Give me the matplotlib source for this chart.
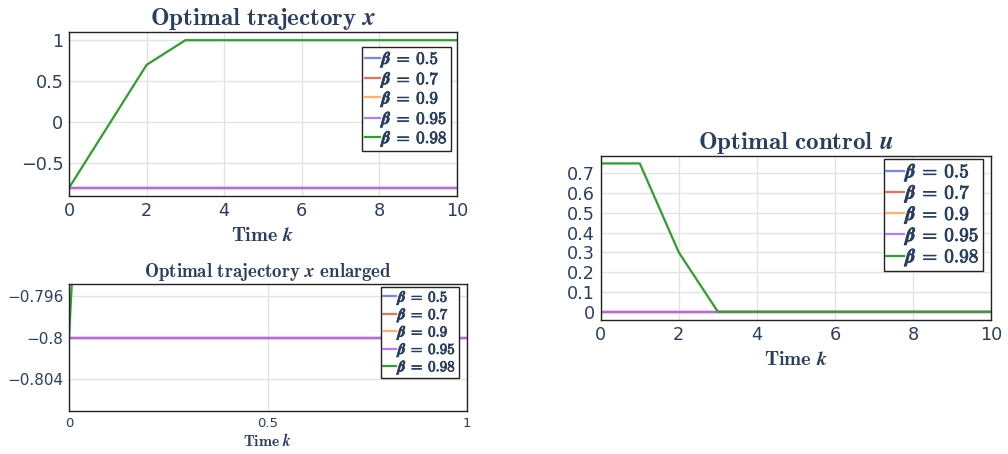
import matplotlib
matplotlib.use('Agg')
import matplotlib.pyplot as plt
import matplotlib.patheffects as pe

plt.rcParams['mathtext.fontset'] = 'cm'
plt.rcParams['font.family'] = ['DejaVu Sans']

# time grid and the discount factors that were tried
time_k = [0, 1, 2, 3, 4, 5, 6, 7, 8, 9, 10]
betas = ['0.5', '0.7', '0.9', '0.95', '0.98']
colors = ['#636efa', '#ef553b', '#ffa15a', '#ab63fa', '#2ca02c']

# optimal trajectory x for each beta
x_050 = [-0.8] * 11
x_070 = [-0.8] * 11
x_090 = [-0.8] * 11
x_095 = [-0.8] * 11
x_098 = [-0.8, -0.05, 0.7, 1.0, 1.0, 1.0, 1.0, 1.0, 1.0, 1.0, 1.0]

# optimal control u for each beta
u_050 = [0.0] * 11
u_070 = [0.0] * 11
u_090 = [0.0] * 11
u_095 = [0.0] * 11
u_098 = [0.75, 0.75, 0.3, 0.0, 0.0, 0.0, 0.0, 0.0, 0.0, 0.0, 0.0]

traj = [x_050, x_070, x_090, x_095, x_098]
ctrl = [u_050, u_070, u_090, u_095, u_098]

TXT = '#2a3f5f'


def style_axes(ax, tick_size):
    ax.grid(True, color='#e3e3e3', linewidth=1.0)
    ax.set_axisbelow(True)
    for s in ax.spines.values():
        s.set_color('#222222')
        s.set_linewidth(1.0)
    ax.tick_params(length=0, colors=TXT, labelsize=tick_size, pad=4)


def draw(ax, data, title, title_size, tick_size, label_size, label_pad,
         leg_size, leg_anchor):
    for ys, b, c in zip(data, betas, colors):
        a = 1.0 if c == '#2ca02c' else 0.85
        ax.plot(time_k, ys, color=c, linewidth=1.6, alpha=a,
                label=r'$\boldsymbol{\beta}\:\mathbf{=}\:\mathbf{' + b + '}$')
    style_axes(ax, tick_size)
    ax.set_title(title, fontsize=title_size, color=TXT, pad=5)
    ax.set_xlabel(r'$\mathbf{Time}\ \boldsymbol{k}$', fontsize=label_size,
                  color=TXT, labelpad=label_pad)
    leg = ax.legend(loc='upper right', bbox_to_anchor=leg_anchor,
                    fontsize=leg_size, frameon=True, fancybox=False,
                    handlelength=0.9, handletextpad=0.1, borderpad=0.12,
                    labelspacing=-0.04, borderaxespad=0.0, framealpha=1.0)
    leg.get_frame().set_edgecolor('#222222')
    leg.get_frame().set_linewidth(1.0)
    for t in leg.get_texts():
        t.set_color(TXT)
        # heavier strokes for the legend entries
        t.set_path_effects([pe.withStroke(linewidth=0.6, foreground=TXT)])
    return leg


fig = plt.figure(figsize=(10.08, 4.54), dpi=100)

# trajectory over the full horizon
ax1 = fig.add_axes([0.0685, 0.5683, 0.3849, 0.3612])
draw(ax1, traj, r'$\mathbf{Optimal\ trajectory}\ \boldsymbol{x}$',
     18, 12.7, 14.5, 5, 12.3, (0.985, 0.91))
ax1.set_xlim(0, 10)
ax1.set_ylim(-0.9, 1.1)
ax1.set_xticks([0, 2, 4, 6, 8, 10])
ax1.set_yticks([-0.5, 0, 0.5, 1])
ax1.set_yticklabels(['\u22120.5', '0', '0.5', '1'])

# zoom on the start of the trajectory
ax2 = fig.add_axes([0.0685, 0.0947, 0.3948, 0.2791])
draw(ax2, traj, r'$\mathbf{Optimal\ trajectory}\ \boldsymbol{x}\ \mathbf{enlarged}$',
     13.6, 11, 11.2, 2, 10.8, (0.98, 0.98))
ax2.set_xlim(0, 1)
ax2.set_ylim(-0.80702, -0.79489)
ax2.set_xticks([0, 0.5, 1])
ax2.set_xticklabels(['0', '0.5', '1'])
ax2.tick_params(axis='x', labelsize=9.5)
ax2.set_yticks([-0.804, -0.8, -0.796])
ax2.set_yticklabels(['\u22120.804', '\u22120.8', '\u22120.796'])

# control sequence
ax3 = fig.add_axes([0.596, 0.2952, 0.3871, 0.3618])
draw(ax3, ctrl, r'$\mathbf{Optimal\ control}\ \boldsymbol{u}$',
     18, 12.7, 14.7, 4.5, 13.8, (0.98, 0.98))
ax3.set_xlim(0, 10)
ax3.set_ylim(-0.042, 0.789)
ax3.set_xticks([0, 2, 4, 6, 8, 10])
ax3.set_yticks([0, 0.1, 0.2, 0.3, 0.4, 0.5, 0.6, 0.7])
ax3.set_yticklabels(['0', '0.1', '0.2', '0.3', '0.4', '0.5', '0.6', '0.7'])

fig.savefig('out.png', dpi=100)
